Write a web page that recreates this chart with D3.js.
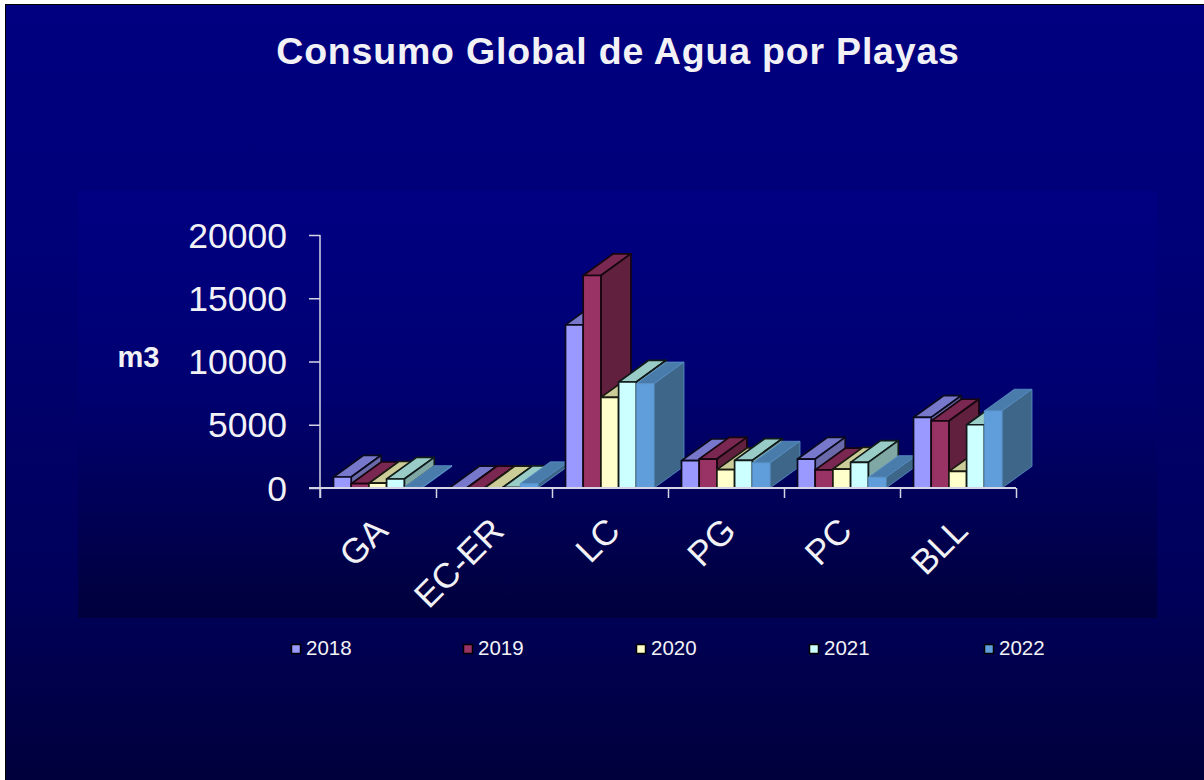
<!DOCTYPE html>
<html><head><meta charset="utf-8">
<script src="https://d3js.org/d3.v7.min.js"></script>
<style>html,body{margin:0;padding:0;background:#fff;overflow:hidden}svg{display:block}text{font-family:"Liberation Sans",Arial,sans-serif;fill:#f2f2f6}</style>
</head><body><svg id="c" width="1204" height="780"></svg>
<script>
const titleText = "Consumo Global de Agua por Playas";
const yAxisLabel = "m3";
const categories = ["GA","EC-ER","LC","PG","PC","BLL"];
const years = ["2018","2019","2020","2021","2022"];
const v2018 = [870,20,12900,2160,2290,5580];
const v2019 = [340,20,16800,2290,1430,5300];
const v2020 = [380,20,7160,1450,1500,1310];
const v2021 = [710,30,8380,2180,2030,5000];
const v2022 = [50,350,8240,1980,840,6090];
const seriesValues = [v2018,v2019,v2020,v2021,v2022];
const yTicks = [0,5000,10000,15000,20000];
const frontColors = ["#9999ff","#993366","#ffffcc","#ccffff","#5f9edb"];
const topColors   = ["#7777cc","#7a2852","#cccc99","#99ccc6","#4a7cab"];
const sideColors  = ["#6a6aaa","#62203f","#a8a880","#7fa8a5","#3d6688"];
const edgeColors  = ["#0a0a1e","#16060f","#1a1a10","#101a1a","#5b93c9"];

const svg = d3.select("#c");
const defs = svg.append("defs");
function grad(id, stops){
  const g = defs.append("linearGradient").attr("id",id).attr("x1",0).attr("y1",0).attr("x2",0).attr("y2",1);
  stops.forEach(s=>g.append("stop").attr("offset",s[0]).attr("stop-color",s[1]));
}
grad("bg",[[0,"#000080"],[0.3,"#000078"],[0.75,"#00005a"],[1,"#00003c"]]);
grad("panel",[[0,"#000082"],[0.45,"#000072"],[1,"#00003c"]]);

svg.append("rect").attr("width",1204).attr("height",780).attr("fill","#fff");
svg.append("rect").attr("x",5).attr("y",4).attr("width",1199).attr("height",776).attr("fill","#000");
svg.append("rect").attr("x",6).attr("y",5).attr("width",1198).attr("height",775).attr("fill","url(#bg)");
svg.append("rect").attr("x",78).attr("y",191).attr("width",1079).attr("height",427).attr("fill","url(#panel)");

svg.append("text").attr("x",618).attr("y",64).attr("text-anchor","middle")
  .attr("font-size",37.5).attr("font-weight","bold").attr("letter-spacing",0.8).text(titleText);
svg.append("text").attr("x",138.5).attr("y",367).attr("text-anchor","middle")
  .attr("font-size",29).attr("font-weight","bold").text(yAxisLabel);

const y = d3.scaleLinear().domain([0,20000]).range([488,235]);
const x = d3.scaleBand().domain(categories).range([320,1016]);
const inner = d3.scaleBand().domain(years).range([13.5,102]);
const depthX = 30, depthY = 21.7;

const bars = svg.append("g");
categories.forEach((cat,ci)=>{
  years.forEach((yr,si)=>{
    const val = seriesValues[si][ci];
    const x0 = x(cat)+inner(yr), w = inner.bandwidth(), yt = y(val), yb = y(0);
    const g = bars.append("g").attr("stroke",edgeColors[si]).attr("stroke-width",si<4?1.7:0.8).attr("stroke-linejoin","round");
    g.append("path").attr("fill",topColors[si])
      .attr("d",d3.line()([[x0,yt],[x0+depthX,yt-depthY],[x0+w+depthX,yt-depthY],[x0+w,yt]])+"Z");
    g.append("path").attr("fill",sideColors[si])
      .attr("d",d3.line()([[x0+w,yt],[x0+w+depthX,yt-depthY],[x0+w+depthX,yb-depthY],[x0+w,yb]])+"Z");
    g.append("rect").attr("fill",frontColors[si]).attr("x",x0).attr("y",yt).attr("width",w).attr("height",yb-yt);
  });
});

const axisColor = "#d4d4e4";
const yAxis = d3.axisLeft(y).tickValues(yTicks).tickFormat(d=>String(d)).tickSize(11).tickPadding(22);
const gy = svg.append("g").attr("transform","translate(320,0)").call(yAxis);
gy.selectAll("path,line").attr("stroke",axisColor).attr("stroke-width",1.5);
gy.select("path.domain").attr("d","M0,235V498");
gy.selectAll("text").attr("font-family",null).attr("fill",null).style("font-size","35.5px").attr("dy","0.34em");
gy.attr("font-family",null).attr("font-size",null);

const edges = d3.scaleLinear().domain([0,categories.length]).range([320,1016]);
const xAxis = d3.axisBottom(edges).ticks(categories.length).tickFormat("").tickSize(10);
const gx = svg.append("g").attr("transform","translate(0,488)").call(xAxis);
gx.selectAll("path,line").attr("stroke",axisColor).attr("stroke-width",1.5);
gx.select("path.domain").attr("d","M309,0H1016").attr("stroke-width",2);

categories.forEach(cat=>{
  const px = x(cat)+x.bandwidth()/2-6, py = 515;
  svg.append("text").attr("transform",`translate(${px},${py}) rotate(-45)`)
    .attr("text-anchor","end").attr("dy","0.72em").attr("font-size",35).text(cat);
});

const legendX = [291,463,636,809,984];
years.forEach((yr,i)=>{
  svg.append("rect").attr("x",legendX[i]+0.5).attr("y",644.5).attr("width",9).attr("height",9)
    .attr("fill",frontColors[i]).attr("stroke","#000").attr("stroke-width",1.5);
  svg.append("text").attr("x",legendX[i]+15).attr("y",654.5).attr("font-size",20.5).text(yr);
});
</script></body></html>
